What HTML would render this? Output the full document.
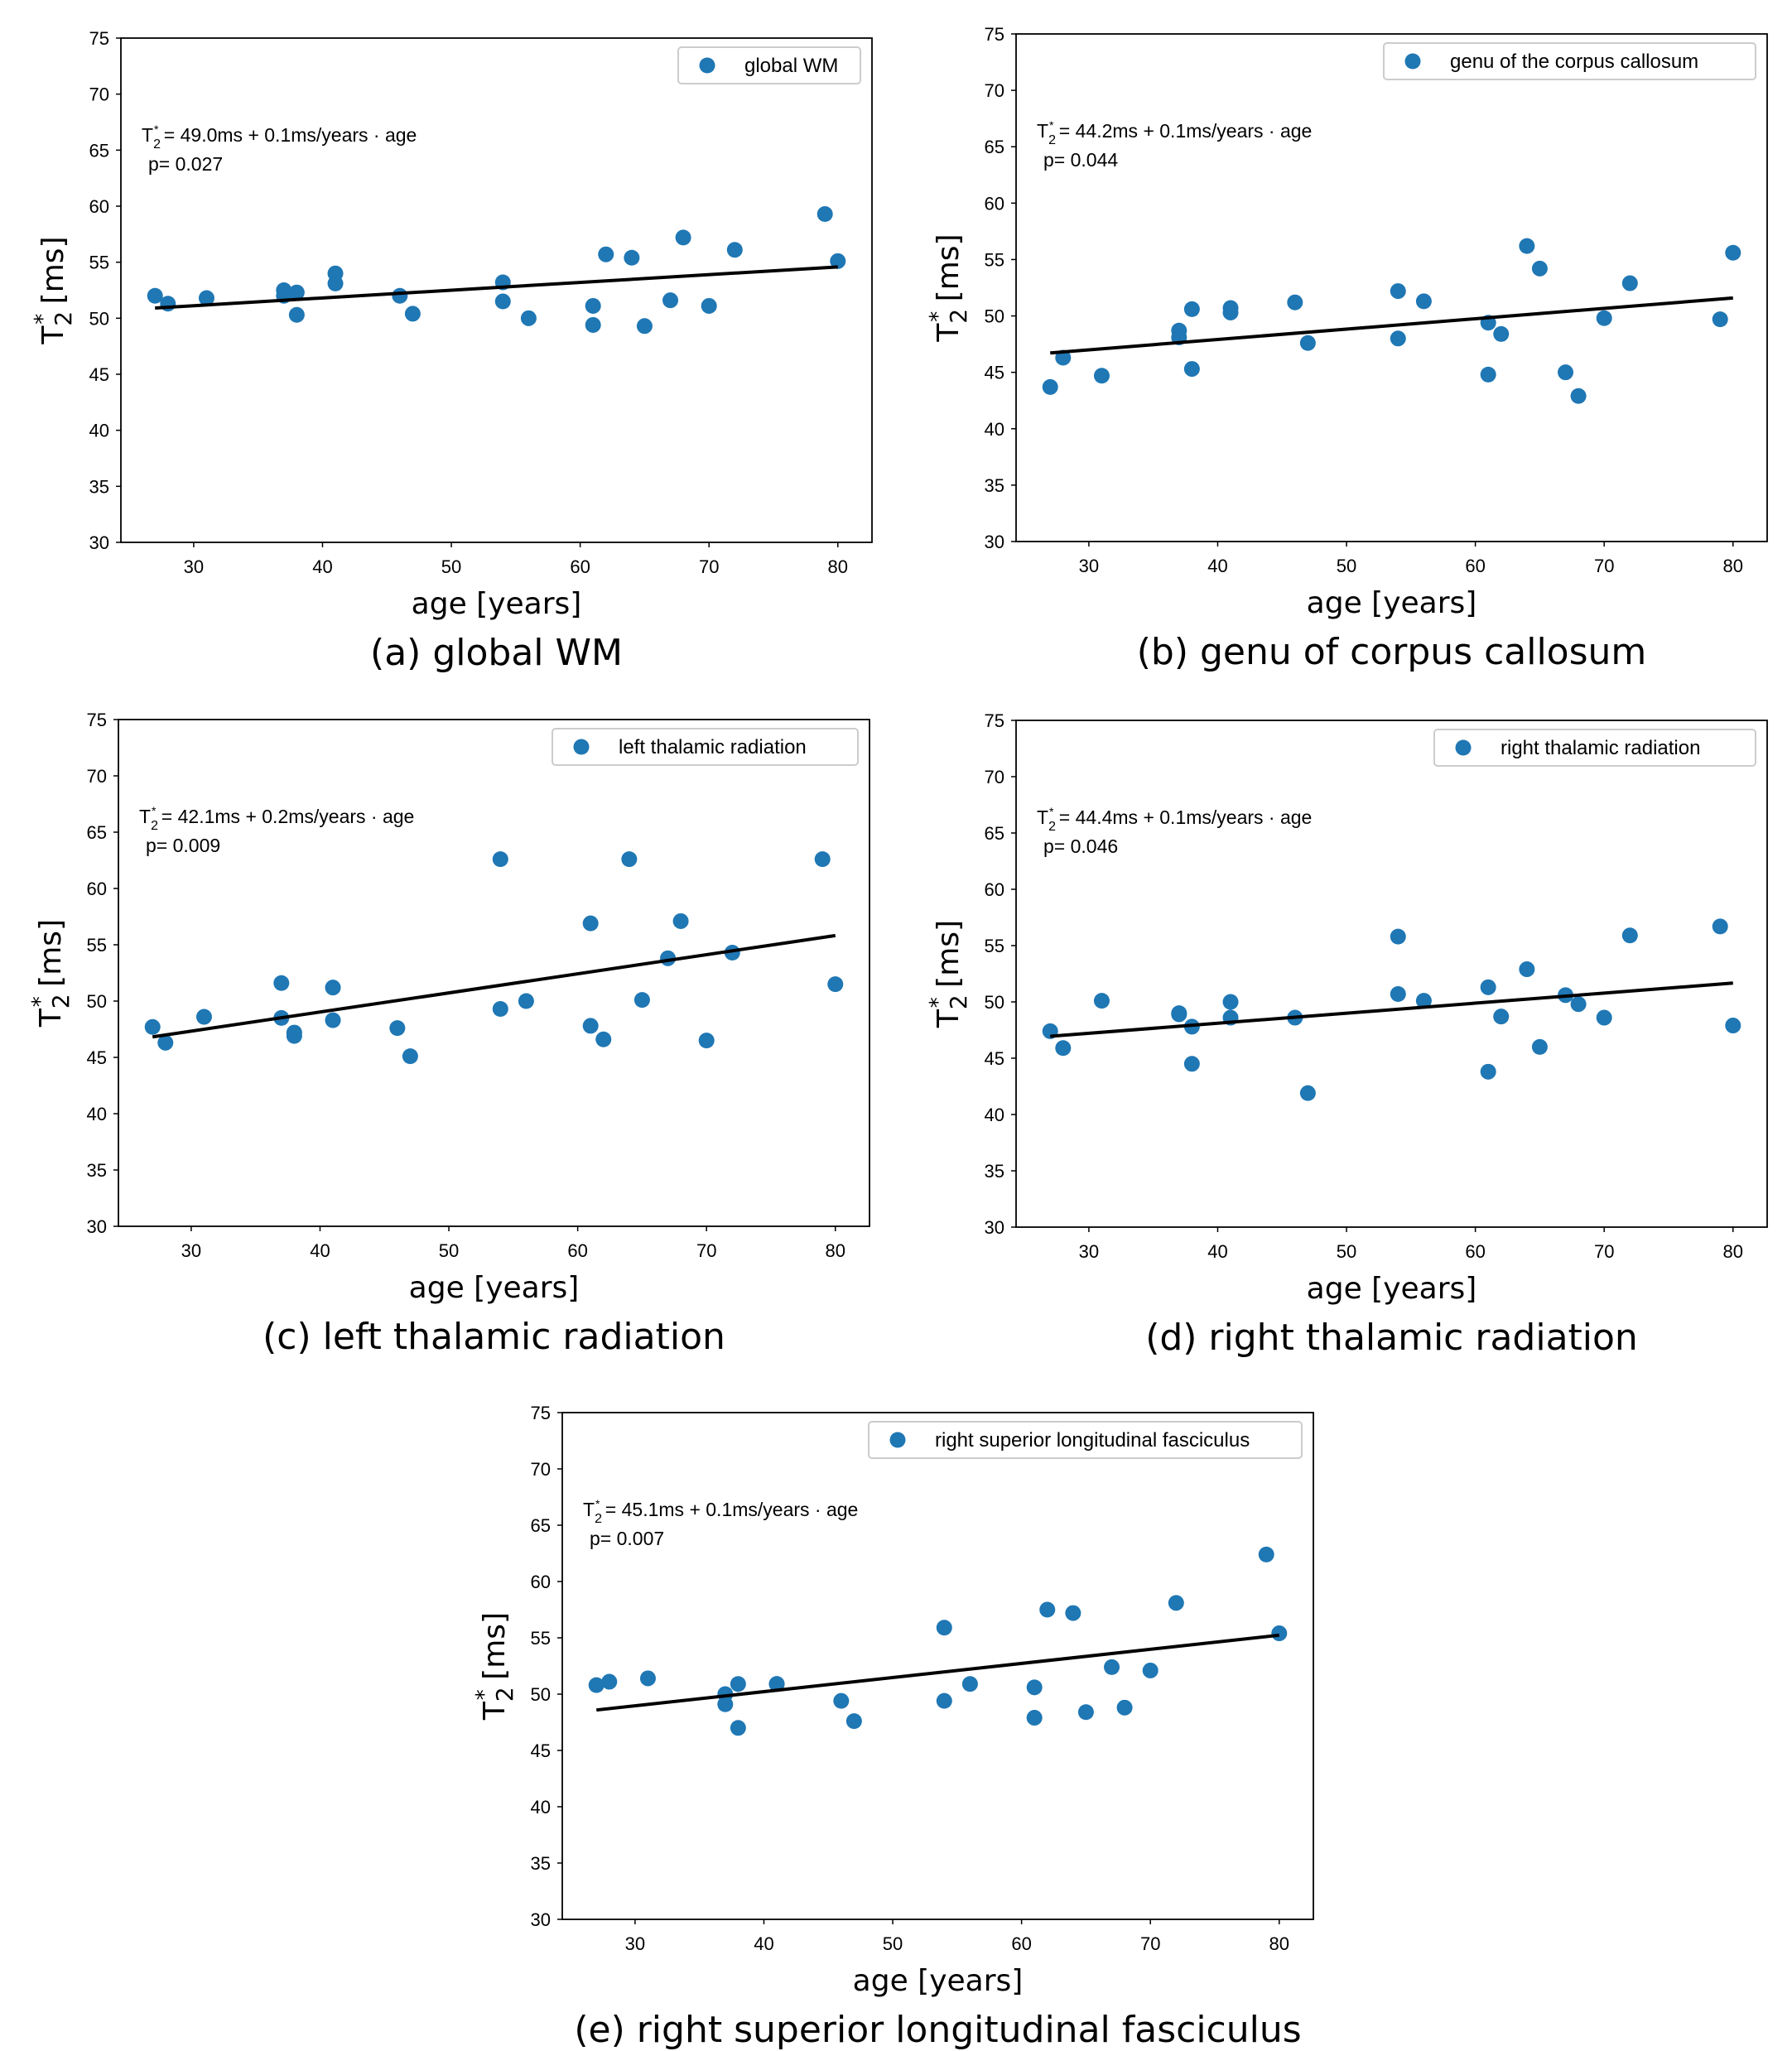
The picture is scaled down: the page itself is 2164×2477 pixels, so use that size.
<!DOCTYPE html>
<html><head><meta charset="utf-8">
<style>
html,body{margin:0;padding:0;background:#fff;}
svg{display:block;}
.tick{font-family:"Liberation Sans Narrow","Liberation Sans",sans-serif;font-size:22px;fill:#000;}
.ann{font-family:"Liberation Sans Narrow","Liberation Sans",sans-serif;font-size:23px;fill:#000;}
.leg{font-family:"Liberation Sans Narrow","Liberation Sans",sans-serif;font-size:24px;fill:#000;}
.axl{font-family:"DejaVu Sans","Liberation Sans",sans-serif;font-size:36px;fill:#000;}
.cap{font-family:"DejaVu Sans","Liberation Sans",sans-serif;font-size:44px;fill:#000;}
</style></head>
<body>
<svg id="fig" width="2164" height="2477" viewBox="0 0 2164 2477" xmlns="http://www.w3.org/2000/svg"></svg>
<script>
const ages = [27,28,31,37,37,38,38,41,41,46,47,54,54,56,61,61,62,64,65,67,68,70,72,79,80];
const valsA = [52.0,51.3,51.8,52.5,52.0,52.3,50.3,54.0,53.1,52.0,50.4,53.2,51.5,50.0,51.1,49.4,55.7,55.4,49.3,51.6,57.2,51.1,56.1,59.3,55.1];
const valsB = [43.7,46.3,44.7,48.7,48.1,50.6,45.3,50.7,50.3,51.2,47.6,52.2,48.0,51.3,49.4,44.8,48.4,56.2,54.2,45.0,42.9,49.8,52.9,49.7,55.6];
const valsC = [47.7,46.3,48.6,51.6,48.5,47.2,46.9,51.2,48.3,47.6,45.1,62.6,49.3,50.0,56.9,47.8,46.6,62.6,50.1,53.8,57.1,46.5,54.3,62.6,51.5];
const valsD = [47.4,45.9,50.1,49.0,48.9,47.8,44.5,50.0,48.6,48.6,41.9,55.8,50.7,50.1,51.3,43.8,48.7,52.9,46.0,50.6,49.8,48.6,55.9,56.7,47.9];
const valsE = [50.8,51.1,51.4,50.0,49.1,50.9,47.0,50.9,50.9,49.4,47.6,55.9,49.4,50.9,50.6,47.9,57.5,57.2,48.4,52.4,48.8,52.1,58.1,62.4,55.4];
const xTicks = [30,40,50,60,70,80];
const yTicks = [30,35,40,45,50,55,60,65,70,75];
const legendLabels = ["global WM","genu of the corpus callosum","left thalamic radiation","right thalamic radiation","right superior longitudinal fasciculus"];
const captions = ["(a) global WM","(b) genu of corpus callosum","(c) left thalamic radiation","(d) right thalamic radiation","(e) right superior longitudinal fasciculus"];
const eqText = [["49.0","0.1","0.027"],["44.2","0.1","0.044"],["42.1","0.2","0.009"],["44.4","0.1","0.046"],["45.1","0.1","0.007"]];
</script>
<script>
const NS="http://www.w3.org/2000/svg";
const svg=document.getElementById('fig');
function mk(tag,attrs,parent){const e=document.createElementNS(NS,tag);for(const k in attrs)e.setAttribute(k,attrs[k]);(parent||svg).appendChild(e);return e;}
const panels=[
 {L:146,R:1053,T:46,B:655,vals:valsA,lw:220},
 {L:1227,R:2134,T:41,B:654,vals:valsB,lw:449},
 {L:143,R:1050,T:869,B:1481,vals:valsC,lw:369},
 {L:1227,R:2134,T:870,B:1482,vals:valsD,lw:388},
 {L:679,R:1586,T:1706,B:2318,vals:valsE,lw:523}
];
const xmin=24.35,xmax=82.65,ymin=30,ymax=75;
panels.forEach((p,i)=>{
 const g=mk('g',{});
 
 
 const xs=v=>p.L+(v-xmin)/(xmax-xmin)*(p.R-p.L);
 const ys=v=>p.B-(v-ymin)/(ymax-ymin)*(p.B-p.T);
 xTicks.forEach(t=>{
  mk('line',{x1:xs(t),x2:xs(t),y1:p.B,y2:p.B+6,stroke:'#000','stroke-width':1.5},g);
  const tx=mk('text',{x:xs(t),y:p.B+37,'text-anchor':'middle',class:'tick'},g);tx.textContent=t;
  
  
 });
 yTicks.forEach(t=>{
  mk('line',{x1:p.L-6,x2:p.L,y1:ys(t),y2:ys(t),stroke:'#000','stroke-width':1.5},g);
  const tx=mk('text',{x:p.L-14,y:ys(t)+8,'text-anchor':'end',class:'tick'},g);tx.textContent=t;
  
  
 });
 const n=Math.min(ages.length,p.vals.length);
 for(let k=0;k<n;k++){
  const c=mk('circle',{cx:xs(ages[k]),cy:ys(p.vals[k]),r:9.5,fill:'#1f77b4'},g);
  
  
 }
 let sx=0,sy=0,sxx=0,sxy=0;
 for(let k=0;k<n;k++){sx+=ages[k];sy+=p.vals[k];sxx+=ages[k]*ages[k];sxy+=ages[k]*p.vals[k];}
 const b=(n*sxy-sx*sy)/(n*sxx-sx*sx),a=(sy-b*sx)/n;
 const x0=Math.min(...ages),x1=Math.max(...ages);
 const ln=mk('line',{x1:xs(x0),y1:ys(a+b*x0),x2:xs(x1),y2:ys(a+b*x1),stroke:'#000','stroke-width':4},g);
 
 
 const fr=mk('rect',{x:p.L,y:p.T,width:p.R-p.L,height:p.B-p.T,fill:'none',stroke:'#000','stroke-width':1.8},g);
 
 
 const e=eqText[i];
 const an=mk('text',{x:p.L+25,y:p.T+125,class:'ann'},g);
 an.innerHTML='T<tspan font-size="16" dy="8">2</tspan><tspan font-size="14" dy="-18" dx="-8">*</tspan><tspan dy="10"> = '+e[0]+'ms +  '+e[1]+'ms/years · age</tspan>';
 
 
 const pv=mk('text',{x:p.L+33,y:p.T+160,class:'ann'},g);pv.textContent='p= '+e[2];
 
 
 const lx=p.R-14-p.lw,ly=p.T+11;
 const lg=mk('g',{},g);
 
 
 mk('rect',{x:lx,y:ly,width:p.lw,height:44,rx:4,fill:'#fff',stroke:'#ccc','stroke-width':2},lg);
 mk('circle',{cx:lx+35,cy:ly+22,r:9.5,fill:'#1f77b4'},lg);
 const lt=mk('text',{x:lx+80,y:ly+30,class:'leg'},lg);lt.textContent=legendLabels[i];
 const xl=mk('text',{x:(p.L+p.R)/2,y:p.B+86,'text-anchor':'middle',class:'axl'},g);xl.textContent='age [years]';
 
 
 const cy=(p.T+p.B)/2;
 const yl=mk('text',{x:0,y:0,'text-anchor':'middle',class:'axl',transform:'translate('+(p.L-70)+','+cy+') rotate(-90)'},g);
 yl.innerHTML='T<tspan font-size="28" dy="10">2</tspan><tspan font-size="26" dy="-26" dx="-16">*</tspan><tspan dy="16">  [ms]</tspan>';
 
 
 const cp=mk('text',{x:(p.L+p.R)/2,y:p.B+148,'text-anchor':'middle',class:'cap'},g);cp.textContent=captions[i];
 
 
});
</script>
</body></html>
